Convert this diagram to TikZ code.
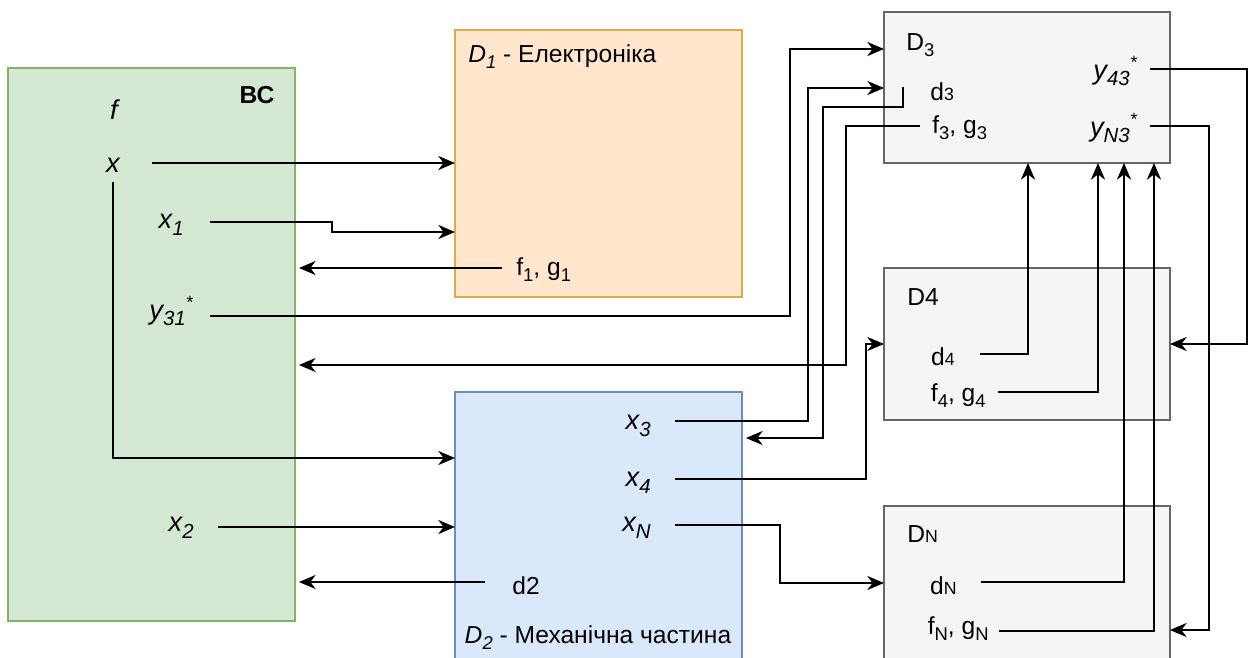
\documentclass[tikz,border=0pt]{standalone}
\usepackage{fontspec}
\setmainfont{Liberation Sans}
\usepackage{xcolor}
\usetikzlibrary{arrows.meta,calc}

\definecolor{bcfill}{HTML}{D5E8D4}
\definecolor{bcline}{HTML}{82B366}
\definecolor{elfill}{HTML}{FFE6CC}
\definecolor{elline}{HTML}{D9AE48}
\definecolor{mefill}{HTML}{DAE8FC}
\definecolor{meline}{HTML}{6C8EBF}
\definecolor{dfill}{HTML}{F5F5F5}
\definecolor{dline}{HTML}{666666}

\newcommand{\lsub}[1]{\raisebox{-0.45ex}{\scalebox{0.75}{#1}}}
\newcommand{\lsup}[1]{\raisebox{0.75ex}{\scalebox{0.65}{#1}}}
\newcommand{\lsmall}[1]{\scalebox{0.72}{#1}}

\tikzset{
  blk/.style={draw, line width=0.8pt, rectangle, anchor=north west, inner sep=0pt, outer sep=0pt},
  wire/.style={line width=1.1pt, -{Stealth[length=9.5pt,width=8pt,inset=3pt]}},
  lbl/.style={inner sep=0pt, font=\fontsize{14}{16}\selectfont},
  var/.style={inner sep=0pt, font=\fontsize{15.5}{17}\selectfont\itshape},
}

\begin{document}
\begin{tikzpicture}[x=0.02cm,y=-0.02cm]
    \useasboundingbox (0,0) rectangle (1249,657);
    \clip (0,0) rectangle (1249,657);

    % blocks
    \node[blk, draw=bcline, fill=bcfill, minimum width=5.74cm, minimum height=11.06cm] (bc) at (8,68) {};
    \node[blk, draw=elline, fill=elfill, minimum width=5.74cm, minimum height=5.34cm] (elec) at (455,30) {};
    \node[blk, draw=meline, fill=mefill, minimum width=5.74cm, minimum height=5.6cm] (mech) at (455,392) {};
    \node[blk, draw=dline, fill=dfill, minimum width=5.72cm, minimum height=3.02cm] (dthree) at (884,12) {};
    \node[blk, draw=dline, fill=dfill, minimum width=5.72cm, minimum height=3.04cm] (dfour) at (884,268) {};
    \node[blk, draw=dline, fill=dfill, minimum width=5.72cm, minimum height=3.32cm] (dn) at (884,506) {};

    % labels
    \node[var] (lf) at (114,110) {f};
    \node[lbl, font=\fontsize{14}{16}\selectfont\bfseries] (lbc) at (257,95) {ВС};
    \node[var, anchor=east] (lx) at (120,165) {x};
    \node[var, anchor=east] (lxone) at (184,225) {x\lsub{1}};
    \node[var, anchor=east] (lyto) at (193,311) {y\lsub{31}\lsup{*}};
    \node[var, anchor=east] (lxtwo) at (194,528) {x\lsub{2}};

    \node[lbl, anchor=west] (ltone) at (468,57) {\textit{D\lsub{1}} - Електроніка};
    \node[lbl, anchor=west] (lfgone) at (516,270) {f\lsub{1}, g\lsub{1}};

    \node[lbl] (lttwo) at (598,638) {\textit{D\lsub{2}} - Механічна частина};
    \node[var, anchor=east] (lxthree) at (651,426) {x\lsub{3}};
    \node[var, anchor=east] (lxfour) at (651,483) {x\lsub{4}};
    \node[var, anchor=east] (lxn) at (651,528) {x\lsub{N}};
    \node[lbl, anchor=west] (ld2) at (512,586) {d2};

    \node[lbl, anchor=west] (ldthree) at (906,45) {D\lsub{3}};
    \node[lbl, anchor=west] (lsd3) at (930,92) {d\lsmall{3}};
    \node[lbl, anchor=west] (lfgthree) at (932,128) {f\lsub{3}, g\lsub{3}};
    \node[var, anchor=east] (lyft) at (1137,71) {y\lsub{43}\lsup{*}};
    \node[var, anchor=east] (lynt) at (1137,128) {y\lsub{N3}\lsup{*}};

    \node[lbl, anchor=west] (ldfour) at (907,297) {D4};
    \node[lbl, anchor=east] (lsd4) at (955,357) {d\lsmall{4}};
    \node[lbl, anchor=east] (lfgfour) at (986,396) {f\lsub{4}, g\lsub{4}};

    \node[lbl, anchor=west] (ldn) at (907,534) {D\lsmall{N}};
    \node[lbl, anchor=east] (lsdn) at (957,586) {d\lsmall{N}};
    \node[lbl, anchor=east] (lfgn) at (989,629) {f\lsub{N}, g\lsub{N}};

    % wire ends
    \coordinate (sx) at ($(lx.east)+(32,-2)$);
    \coordinate (sxd) at ($(lx.south)+(0,9)$);
    \coordinate (sxone) at ($(lxone.east)+(26,-3)$);
    \coordinate (syto) at ($(lyto.east)+(17,5)$);
    \coordinate (sxtwo) at ($(lxtwo.east)+(24,-1)$);
    \coordinate (sfgone) at ($(lfgone.west)+(-14,-2)$);
    \coordinate (sd2) at ($(ld2.west)+(-27,-4)$);
    \coordinate (sxthree) at ($(lxthree.east)+(24,-5)$);
    \coordinate (sxfour) at ($(lxfour.east)+(24,-4)$);
    \coordinate (sxn) at ($(lxn.east)+(24,-3)$);
    \coordinate (sd3) at ($(lsd3.west)+(-27,-5)$);
    \coordinate (sfgthree) at ($(lfgthree.west)+(-12,-2)$);
    \coordinate (syft) at ($(lyft.east)+(13,-2)$);
    \coordinate (synt) at ($(lynt.east)+(13,-2)$);
    \coordinate (sd4) at ($(lsd4.east)+(25,-3)$);
    \coordinate (sfgfour) at ($(lfgfour.east)+(12,-4)$);
    \coordinate (sdn) at ($(lsdn.east)+(24,-4)$);
    \coordinate (sfgn) at ($(lfgn.east)+(10,2)$);

    \coordinate (inone) at ($(dthree.north west)+(0,37)$);
    \coordinate (intwo) at ($(dthree.north west)+(0,76)$);
    \coordinate (inmech) at ($(mech.north east)+(4,46)$);
    \coordinate (inbc) at ($(bc.north east)+(4,297)$);
    \coordinate (indn) at ($(dn.north west)+(0,77)$);
    \coordinate (indnr) at ($(dn.north east)+(0,124)$);

    % connectors
    \draw[wire] (sx) -- (sx -| elec.west);
    \draw[wire] (sxone) -- ++(122,0) -- ++(0,10) coordinate (jog) -- (jog -| elec.west);
    \draw[wire] (sfgone) -- ($(sfgone -| bc.east)+(4,0)$);
    \draw[wire] (syto) -| ($(inone)+(-94,0)$) -- (inone);
    \draw[wire] (sxd) |- ($(mech.north west)+(0,66)$);
    \draw[wire] (sxtwo) -- (sxtwo -| mech.west);
    \draw[wire] (sd2) -- ($(sd2 -| bc.east)+(4,0)$);

    \draw[wire] (sxthree) -| ($(intwo)+(-76,0)$) -- (intwo);
    \draw[wire] (sd3) -- ++(0,20) -- ++(-80,0) coordinate (dd) -- (dd |- inmech) -- (inmech);
    \draw[wire] (sfgthree) -| ($(inbc)+(547,0)$) -- (inbc);
    \draw[wire] (sxfour) -| ($(dfour.west)+(-18,0)$) -- (dfour.west);
    \draw[wire] (sxn) -| ($(indn)+(-104,0)$) -- (indn);

    \draw[wire] (sd4) -| ($(dthree.south west)+(144,0)$);
    \draw[wire] (sfgfour) -| ($(dthree.south west)+(214,0)$);
    \draw[wire] (sdn) -| ($(dthree.south west)+(240,0)$);
    \draw[wire] (sfgn) -| ($(dthree.south west)+(270,0)$);
    \draw[wire] (syft) -- ++(97,0) |- (dfour.east);
    \draw[wire] (synt) -- ++(59,0) |- (indnr);
\end{tikzpicture}
\end{document}
